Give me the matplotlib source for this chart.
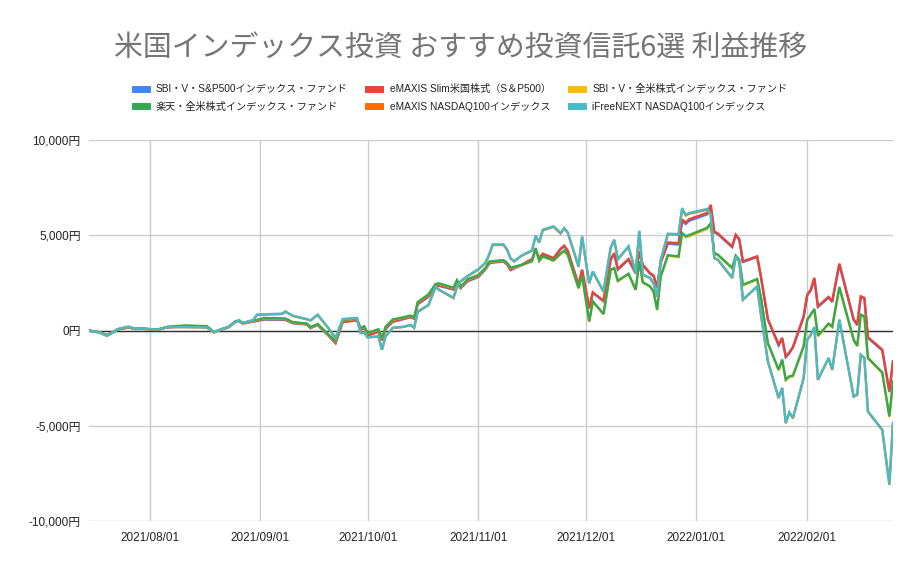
import matplotlib.pyplot as plt
import matplotlib.dates as mdates
from matplotlib.lines import Line2D
import pandas as pd

plt.rcParams["font.family"] = ["Liberation Sans", "Noto Sans CJK JP", "DejaVu Sans"]

title = "米国インデックス投資 おすすめ投資信託6選 利益推移"

names = [
    "SBI・V・S&P500インデックス・ファンド",
    "eMAXIS Slim米国株式（S＆P500）",
    "SBI・V・全米株式インデックス・ファンド",
    "楽天・全米株式インデックス・ファンド",
    "eMAXIS NASDAQ100インデックス",
    "iFreeNEXT NASDAQ100インデックス",
]
colors = ["#4285F4", "#EA4335", "#FBBC04", "#34A853", "#FF6D01", "#46BDC6"]

dates = [
    "2021-07-15", "2021-07-18", "2021-07-20", "2021-07-22", "2021-07-23", "2021-07-26", "2021-07-28", "2021-07-30",
    "2021-08-03", "2021-08-06", "2021-08-11", "2021-08-17", "2021-08-19", "2021-08-21", "2021-08-23", "2021-08-25",
    "2021-08-26", "2021-08-27", "2021-08-30", "2021-08-31", "2021-09-02", "2021-09-07", "2021-09-08", "2021-09-10",
    "2021-09-14", "2021-09-15", "2021-09-17", "2021-09-20", "2021-09-22", "2021-09-24", "2021-09-28", "2021-09-29",
    "2021-09-30", "2021-10-01", "2021-10-04", "2021-10-05", "2021-10-06", "2021-10-08", "2021-10-11", "2021-10-13",
    "2021-10-14", "2021-10-15", "2021-10-18", "2021-10-20", "2021-10-21", "2021-10-25", "2021-10-26", "2021-10-27",
    "2021-10-29", "2021-11-01", "2021-11-03", "2021-11-04", "2021-11-05", "2021-11-08", "2021-11-09", "2021-11-10",
    "2021-11-11", "2021-11-13", "2021-11-16", "2021-11-17", "2021-11-18", "2021-11-19", "2021-11-22", "2021-11-24",
    "2021-11-25", "2021-11-26", "2021-11-29", "2021-11-30", "2021-12-02", "2021-12-03", "2021-12-06", "2021-12-08",
    "2021-12-09", "2021-12-10", "2021-12-13", "2021-12-15", "2021-12-16", "2021-12-17", "2021-12-19", "2021-12-20", "2021-12-21",
    "2021-12-22", "2021-12-24", "2021-12-27", "2021-12-28", "2021-12-29", "2021-12-30", "2022-01-04", "2022-01-05",
    "2022-01-06", "2022-01-07", "2022-01-11", "2022-01-12", "2022-01-13", "2022-01-14", "2022-01-18", "2022-01-19",
    "2022-01-21", "2022-01-24", "2022-01-25", "2022-01-26", "2022-01-27", "2022-01-28", "2022-01-31", "2022-02-01",
    "2022-02-02", "2022-02-03", "2022-02-04", "2022-02-07", "2022-02-08", "2022-02-10", "2022-02-14", "2022-02-15",
    "2022-02-16", "2022-02-17", "2022-02-18", "2022-02-22", "2022-02-24", "2022-02-25",
]

sbi_sp500 = [
    0, -100, -260, -60, 50, 160, 80, 90,
    30, 170, 220, 190, -90, 50, 170, 460,
    500, 370, 470, 500, 580, 570, 560, 390,
    320, 130, 290, -260, -660, 440, 540, 40,
    140, -260, -60, -510, 90, 460, 600, 700,
    620, 1380, 1780, 2320, 2350, 2150, 2520, 2220,
    2590, 2820, 3220, 3520, 3570, 3620, 3470, 3170,
    3270, 3420, 3730, 4220, 3780, 4010, 3780, 4270,
    4430, 4170, 2380, 3170, 1160, 1980, 1540, 3700,
    4020, 3200, 3720, 2990, 4120, 3420, 2990, 2850, 2260,
    3560, 4560, 4520, 5740, 5600, 5770, 6100, 6540,
    5160, 5060, 4380, 5000, 4770, 3600, 3860, 2860,
    570, -780, -430, -1400, -1190, -900, 700, 1840,
    2100, 2720, 1240, 1730, 1500, 3470, 560, 280,
    1760, 1680, -390, -1040, -3230, -1650,
]
slim_sp500 = [
    0, -90, -250, -50, 60, 170, 90, 100,
    40, 180, 230, 200, -80, 60, 180, 470,
    520, 380, 480, 520, 600, 590, 580, 400,
    330, 140, 300, -250, -650, 450, 560, 50,
    150, -250, -50, -500, 100, 480, 620, 720,
    640, 1400, 1800, 2350, 2380, 2180, 2550, 2250,
    2620, 2850, 3250, 3550, 3600, 3650, 3500, 3200,
    3300, 3450, 3760, 4250, 3810, 4040, 3810, 4300,
    4460, 4200, 2410, 3200, 1190, 2010, 1570, 3760,
    4070, 3240, 3760, 3030, 4160, 3460, 3030, 2890, 2300,
    3600, 4630, 4590, 5820, 5680, 5850, 6180, 6610,
    5210, 5100, 4420, 5040, 4810, 3640, 3900, 2900,
    610, -730, -380, -1350, -1140, -860, 750, 1890,
    2150, 2770, 1280, 1770, 1540, 3520, 600, 320,
    1800, 1720, -350, -1000, -3190, -1610,
]
sbi_total = [
    0, -90, -250, -60, 60, 180, 90, 100,
    40, 190, 260, 220, -80, 60, 180, 480,
    530, 390, 510, 545, 650, 625, 615, 435,
    355, 165, 335, -215, -565, 535, 625, 105,
    215, -135, 55, -415, 185, 565, 685, 775,
    685, 1480, 1880, 2430, 2460, 2230, 2630, 2290,
    2680, 2900, 3280, 3600, 3630, 3680, 3530, 3290,
    3330, 3430, 3630, 4310, 3650, 3880, 3670, 4020,
    4170, 3960, 2210, 2860, 460, 1510, 850, 3170,
    3260, 2590, 2960, 2120, 3610, 2510, 2300, 2030, 1070,
    2820, 3930, 3860, 5080, 4900, 4950, 5340, 5600,
    4040, 3950, 3260, 3900, 3690, 2370, 2670, 1760,
    -690, -2090, -1560, -2610, -2440, -2400, -860, 540,
    810, 1100, -300, 330, 170, 2250, -510, -830,
    800, 710, -1470, -2230, -4540, -2700,
]
rakuten_total = [
    0, -80, -240, -50, 70, 190, 100, 110,
    50, 200, 270, 230, -70, 70, 190, 490,
    540, 400, 525, 560, 665, 640, 630, 450,
    370, 180, 350, -200, -550, 550, 640, 120,
    230, -120, 70, -400, 200, 580, 700, 790,
    700, 1500, 1900, 2450, 2480, 2250, 2650, 2310,
    2700, 2920, 3300, 3620, 3650, 3700, 3550, 3310,
    3350, 3450, 3650, 4340, 3670, 3900, 3690, 4050,
    4200, 3990, 2240, 2890, 490, 1540, 880, 3200,
    3290, 2620, 2990, 2150, 3640, 2540, 2330, 2060, 1100,
    2850, 3960, 3900, 5130, 4960, 5020, 5400, 5650,
    4080, 3990, 3300, 3940, 3730, 2410, 2710, 1800,
    -650, -2050, -1520, -2570, -2400, -2360, -820, 580,
    850, 1140, -260, 370, 210, 2290, -470, -790,
    840, 750, -1430, -2190, -4500, -2660,
]
emaxis_nasdaq = [
    0, -100, -270, -50, 70, 200, 90, 100,
    40, 180, 180, 160, -90, 60, 180, 440,
    530, 390, 550, 820, 840, 870, 990, 770,
    590, 530, 820, 130, -400, 590, 650, -130,
    -110, -360, -310, -1010, -310, 140, 190, 290,
    140, 990, 1330, 2290, 2130, 1710, 2280, 2580,
    2860, 3210, 3560, 3980, 4500, 4500, 4240, 3780,
    3630, 3920, 4200, 4960, 4620, 5270, 5450, 5100,
    5360, 5130, 3360, 4920, 2480, 3090, 2040, 4340,
    4750, 3740, 4400, 3010, 5220, 2920, 2760, 2480, 1780,
    3680, 5060, 5040, 6400, 6050, 6140, 6350, 6060,
    3800, 3710, 2760, 3880, 3620, 1610, 2310, 910,
    -1630, -3550, -3020, -4870, -4310, -4610, -2510, -490,
    -230, 170, -2590, -1450, -2070, 560, -3470, -3380,
    -1280, -1450, -4260, -5220, -8100, -4870,
]
ifree_nasdaq = [
    0, -100, -280, -50, 70, 210, 90, 110,
    50, 190, 190, 170, -80, 70, 190, 450,
    540, 400, 560, 840, 860, 890, 1010, 790,
    600, 540, 840, 140, -385, 610, 665, -120,
    -100, -350, -300, -1000, -300, 150, 200, 300,
    150, 1000, 1350, 2310, 2150, 1730, 2300, 2600,
    2880, 3230, 3580, 4000, 4530, 4530, 4270, 3800,
    3650, 3940, 4220, 4990, 4640, 5300, 5480, 5130,
    5390, 5160, 3380, 4950, 2500, 3110, 2060, 4370,
    4780, 3760, 4430, 3030, 5250, 2940, 2780, 2500, 1800,
    3700, 5090, 5070, 6440, 6090, 6180, 6390, 6100,
    3820, 3730, 2780, 3900, 3640, 1630, 2330, 930,
    -1610, -3530, -3000, -4850, -4290, -4590, -2490, -470,
    -210, 190, -2570, -1430, -2050, 580, -3450, -3360,
    -1260, -1430, -4240, -5200, -8080, -4850,
]

series = [sbi_sp500, slim_sp500, sbi_total, rakuten_total, emaxis_nasdaq, ifree_nasdaq]
month_ticks = ["2021-08-01", "2021-09-01", "2021-10-01", "2021-11-01", "2021-12-01", "2022-01-01", "2022-02-01"]
y_ticks = [-10000, -5000, 0, 5000, 10000]

x = pd.to_datetime(dates)

fig = plt.figure(figsize=(9.22, 5.70), dpi=100)
ax = fig.add_axes([0.0965, 0.086, 0.872, 0.668])

for vals, name, c in zip(series, names, colors):
    ax.plot(x, vals, color=c, lw=1.7, label=name, solid_joinstyle="miter")

ax.set_xlim(x[0], x[-1])
ax.set_ylim(-10000, 10000)

# grid
ax.set_yticks(y_ticks)
ax.set_yticklabels([f"{v:,}円" for v in y_ticks])
ax.set_xticks(pd.to_datetime(month_ticks))
ax.xaxis.set_major_formatter(mdates.DateFormatter("%Y/%m/%d"))
ax.grid(True, color="#cccccc", lw=1)
ax.set_axisbelow(True)
ax.axhline(0, color="#333333", lw=1, zorder=1.5)
for s in ax.spines.values():
    s.set_visible(False)
ax.tick_params(length=0, labelsize=8.5, colors="#222222")
ax.tick_params(axis="y", pad=6)
ax.tick_params(axis="x", pad=8)

fig.text(0.5, 0.916, title, ha="center", va="center", fontsize=20.8, color="#757575",
         family=["Noto Sans CJK JP", "DejaVu Sans"])

handles = [Line2D([0], [0], color=c, lw=5) for c in colors]
order = [0, 3, 1, 4, 2, 5]
fig.legend([handles[i] for i in order], [names[i] for i in order], ncol=3,
           loc="center", bbox_to_anchor=(0.5, 0.828), frameon=False, fontsize=7.3,
           handlelength=1.2, handletextpad=0.9, columnspacing=2.0, labelspacing=0.75,
           labelcolor="#222222")

fig.savefig("out.png", dpi=100, facecolor="white")
